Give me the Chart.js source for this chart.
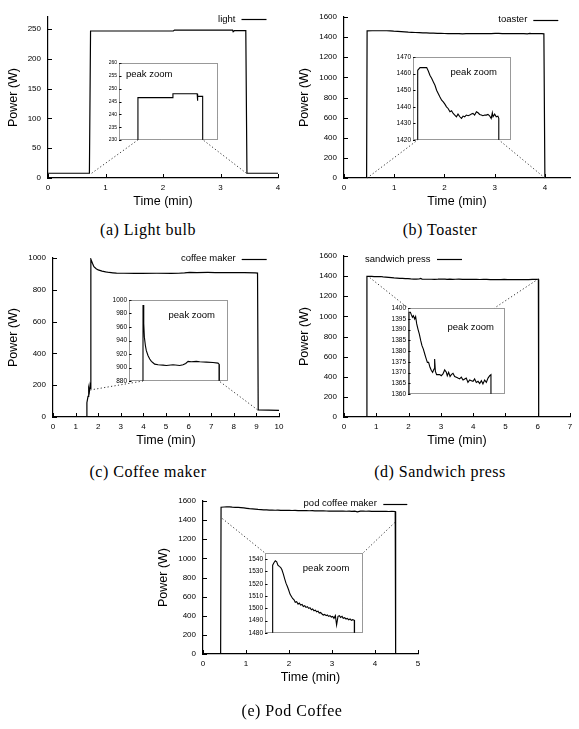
<!DOCTYPE html>
<html>
<head>
<meta charset="utf-8">
<script src="https://cdn.jsdelivr.net/npm/chart.js@4.4.1/dist/chart.umd.min.js"></script>
<style>
  body { margin: 0; background: #fff; width: 579px; height: 729px; position: relative; overflow: hidden; }
  canvas { position: absolute; }
  .cap { position: absolute; font-family: "Liberation Serif", "Times New Roman", serif; font-size: 16px;
         letter-spacing: 0.5px; color: #000; transform: translate(-50%, -50%); white-space: nowrap; }
</style>
</head>
<body>
<script>
// power traces, time in minutes, power in watts

// (a) light bulb
const lightTime  = [0, 0.72, 0.74, 2.18, 2.2, 3.21, 3.22, 3.24, 3.44, 3.46, 4];
const lightPower = [8, 8, 246.5, 246.5, 248, 248, 245.3, 247, 247, 8, 8];

// (b) toaster
const toasterTime = [0, 0.45, 0.46, 0.56, 0.85, 0.92, 0.99, 1.07, 1.14, 1.21, 1.28, 1.35, 1.42, 1.50, 1.57,
  1.64, 1.71, 1.78, 1.86, 1.93, 2.00, 2.07, 2.14, 2.21, 2.29, 2.36, 2.43, 2.50, 2.57, 2.65, 2.72, 2.79, 2.86,
  2.93, 3.01, 3.08, 3.15, 3.22, 3.29, 3.37, 3.44, 3.51, 3.58, 3.65, 3.70, 3.73, 3.80, 3.87, 3.94, 3.98, 4.00, 4.5];
const toasterPower = [0, 0, 1462, 1463.6, 1463.6, 1461.6, 1459, 1457, 1455, 1453, 1450, 1448, 1446, 1444, 1443,
  1441.6, 1440, 1439, 1437, 1437.6, 1436, 1435, 1434, 1435.6, 1434, 1433, 1434.4, 1434, 1435, 1434.6, 1435, 1435.6, 1436,
  1435, 1437, 1436.4, 1435.4, 1435, 1434.6, 1435, 1435, 1435.4, 1434.6, 1433, 1436.4, 1434, 1435.6, 1434, 1434.4, 1433, 0, 0];

// (c) coffee maker
const coffeeTime = [0, 1.48, 1.50, 1.55, 1.58, 1.61, 1.64, 1.67, 1.68, 1.75, 1.81, 1.91, 2.00, 2.17, 2.33,
  2.49, 2.65, 2.81, 3.14, 3.62, 3.94, 4.59, 5.24, 5.56, 5.82, 6.05, 6.37, 6.85, 7.18, 7.82, 8.47, 8.95, 9.05, 9.08, 10];
const coffeePower = [0, 0, 90, 130, 180, 160, 200, 175, 992.5, 965, 945, 932.5, 925, 917.5, 912.5,
  909, 907, 905, 904, 903.5, 903, 904, 903, 904, 906, 909, 908.5, 909, 908.5, 908, 907.5, 906.5, 905, 45, 42];

// (d) sandwich press
const sandwichTime = [0, 0.70, 0.71, 0.80, 0.86, 0.93, 0.99, 1.08, 1.14, 1.21, 1.29, 1.38, 1.47, 1.55, 1.64,
  1.73, 1.81, 1.90, 1.98, 2.07, 2.16, 2.24, 2.33, 2.37, 2.42, 2.50, 2.59, 2.70, 2.80, 2.91, 3.02, 3.13, 3.19,
  3.28, 3.37, 3.45, 3.56, 3.67, 3.78, 3.88, 3.99, 4.10, 4.21, 4.32, 4.42, 4.53, 4.64, 4.75, 4.86, 4.96, 5.07,
  5.18, 5.29, 5.40, 5.50, 5.61, 5.72, 5.83, 5.94, 6.02, 6.03, 7];
const sandwichPower = [0, 0, 1398.0, 1398.0, 1396.9, 1395.7, 1396.4, 1394.9, 1396.0, 1392.6, 1390.2, 1387.9, 1384.8, 1382.5, 1380.9,
  1378.6, 1376.7, 1374.7, 1374.7, 1372.4, 1370.9, 1370.1, 1371.6, 1376.3, 1370.5, 1369.0, 1369.0, 1369.0, 1368.5, 1369.3, 1371.2, 1370.1, 1368.5,
  1370.1, 1368.1, 1369.0, 1369.6, 1368.1, 1367.8, 1367.4, 1367.0, 1367.8, 1366.5, 1367.0, 1367.4, 1365.4, 1366.5, 1366.2, 1365.9, 1367.0, 1365.4,
  1365.9, 1364.9, 1366.2, 1364.7, 1366.5, 1365.4, 1367.4, 1368.5, 1369.0, 0, 0];

// (e) pod coffee maker
const podTime = [0, 0.41, 0.42, 0.49, 0.55, 0.62, 0.68, 0.75, 0.82, 0.88, 0.95, 1.02, 1.08, 1.15, 1.21, 1.28,
  1.35, 1.41, 1.48, 1.54, 1.61, 1.68, 1.74, 1.81, 1.88, 1.94, 2.01, 2.07, 2.14, 2.21, 2.27, 2.34, 2.40, 2.47,
  2.54, 2.60, 2.67, 2.73, 2.80, 2.87, 2.93, 3.00, 3.07, 3.13, 3.20, 3.26, 3.33, 3.40, 3.46, 3.53, 3.59, 3.66,
  3.73, 3.79, 3.86, 3.92, 3.99, 4.06, 4.12, 4.19, 4.26, 4.32, 4.39, 4.47, 4.48, 5];
const podPower = [0, 0, 1535.1, 1537.3, 1538.6, 1537.8, 1535.1, 1534.1, 1533.2, 1531.4, 1527.8, 1523.8, 1520.5, 1517.8, 1515.1, 1511.6,
  1509.7, 1508.1, 1507.0, 1504.9, 1505.4, 1503.5, 1504.3, 1502.7, 1503.2, 1501.6, 1502.2, 1500.8, 1501.4, 1500.0, 1500.5, 1498.9, 1499.5, 1498.1,
  1498.6, 1497.3, 1497.8, 1496.2, 1496.8, 1495.4, 1494.6, 1495.1, 1494.1, 1494.6, 1493.5, 1494.1, 1493.0, 1493.5, 1491.9, 1494.1, 1486.5, 1493.5,
  1494.1, 1492.7, 1493.5, 1491.9, 1492.4, 1491.4, 1491.9, 1490.8, 1491.4, 1490.3, 1490.8, 1490.3, 0, 0];

// tick values
const lightXTicks = [0, 1, 2, 3, 4];
const lightYTicks = [0, 50, 100, 150, 200, 250];
const lightZoomTicks = [230, 235, 240, 245, 250, 255, 260];
const toasterXTicks = [0, 1, 2, 3, 4];
const toasterYTicks = [0, 200, 400, 600, 800, 1000, 1200, 1400, 1600];
const toasterZoomTicks = [1420, 1430, 1440, 1450, 1460, 1470];
const coffeeXTicks = [0, 1, 2, 3, 4, 5, 6, 7, 8, 9, 10];
const coffeeYTicks = [0, 200, 400, 600, 800, 1000];
const coffeeZoomTicks = [880, 900, 920, 940, 960, 980, 1000];
const sandwichXTicks = [0, 1, 2, 3, 4, 5, 6, 7];
const sandwichYTicks = [0, 200, 400, 600, 800, 1000, 1200, 1400, 1600];
const sandwichZoomTicks = [1360, 1365, 1370, 1375, 1380, 1385, 1390, 1395, 1400];
const podXTicks = [0, 1, 2, 3, 4, 5];
const podYTicks = [0, 200, 400, 600, 800, 1000, 1200, 1400, 1600];
const podZoomTicks = [1480, 1490, 1500, 1510, 1520, 1530, 1540];

const FONT = '"Liberation Sans", Arial, Helvetica, sans-serif';
Chart.defaults.font.family = FONT;
Chart.defaults.color = '#000';

const toPts = (t, p) => t.map((x, i) => ({ x: x, y: p[i] }));
const useTicks = vals => s => { s.ticks = vals.map(v => ({ value: v })); };

// small gnuplot-style ticks pointing into the plot
const inTicks = {
  id: 'inTicks',
  afterDraw(chart, args, o) {
    if (!o.len) return;
    const { ctx, chartArea: a, scales } = chart;
    ctx.save();
    ctx.strokeStyle = '#000';
    ctx.lineWidth = 1;
    ctx.beginPath();
    if (o.x) scales.x.ticks.forEach(t => {
      const px = Math.round(scales.x.getPixelForValue(t.value)) + 0.5;
      ctx.moveTo(px, a.bottom); ctx.lineTo(px, a.bottom - o.len);
    });
    scales.y.ticks.forEach(t => {
      const py = Math.round(scales.y.getPixelForValue(t.value)) + 0.5;
      ctx.moveTo(a.left, py); ctx.lineTo(a.left + o.len, py);
    });
    ctx.stroke();
    ctx.restore();
  }
};

// key: label text then a short line sample
const keyPlugin = {
  id: 'key',
  afterDraw(chart, args, o) {
    if (!o.side) return;
    const { ctx, chartArea: a } = chart;
    const text = chart.data.datasets[0].label;
    ctx.save();
    ctx.font = '9.5px ' + FONT;
    ctx.fillStyle = '#000';
    ctx.textBaseline = 'middle';
    const y = a.top + o.dy;
    let x0;
    if (o.side === 'right') {
      x0 = a.right - o.dx - o.len;
      ctx.textAlign = 'right';
      ctx.fillText(text, x0 - o.gap, y);
    } else {
      ctx.textAlign = 'left';
      ctx.fillText(text, a.left + o.dx, y);
      x0 = a.left + o.dx + ctx.measureText(text).width + o.gap;
    }
    ctx.beginPath();
    ctx.moveTo(x0, Math.round(y) + 0.5);
    ctx.lineTo(x0 + o.len, Math.round(y) + 0.5);
    ctx.lineWidth = 1.2;
    ctx.strokeStyle = '#000';
    ctx.stroke();
    ctx.restore();
  }
};

// dotted box of the zoom panel and its label
const framePlugin = {
  id: 'frame',
  afterDraw(chart, args, o) {
    if (!o.side) return;
    const { ctx, chartArea: a } = chart;
    ctx.save();
    ctx.setLineDash([1, 1]);
    ctx.strokeStyle = '#333';
    ctx.lineWidth = 1;
    ctx.strokeRect(a.left + 0.5, a.top + 0.5, a.right - a.left - 1, a.bottom - a.top - 1);
    ctx.setLineDash([]);
    ctx.font = '9.5px ' + FONT;
    ctx.fillStyle = '#000';
    ctx.textBaseline = 'middle';
    ctx.textAlign = o.side;
    ctx.fillText('peak zoom', o.side === 'left' ? a.left + o.dx : a.right - o.dx, a.top + o.dy);
    ctx.restore();
  }
};

// dotted lines from the main trace to the zoom panel
const connectors = {
  id: 'connectors',
  afterDatasetsDraw(chart, args, o) {
    const inset = chart.$inset;
    if (!inset || !o.pairs) return;
    const { ctx } = chart;
    const dx = inset.$pos.left - chart.$pos.left;
    const dy = inset.$pos.top - chart.$pos.top;
    ctx.save();
    ctx.setLineDash([1.2, 2.3]);
    ctx.lineWidth = 1;
    ctx.strokeStyle = '#333';
    o.pairs.forEach(([mx, my, ix, iy]) => {
      ctx.beginPath();
      ctx.moveTo(chart.scales.x.getPixelForValue(mx), chart.scales.y.getPixelForValue(my));
      ctx.lineTo(inset.scales.x.getPixelForValue(ix) + dx, inset.scales.y.getPixelForValue(iy) + dy);
      ctx.stroke();
    });
    ctx.restore();
  }
};

function makeCanvas(rect, m) {
  const c = document.createElement('canvas');
  const left = rect[0] - m.l, top = rect[1] - m.t;
  c.width = rect[2] - rect[0] + m.l + m.r;
  c.height = rect[3] - rect[1] + m.t + m.b;
  c.style.left = left + 'px';
  c.style.top = top + 'px';
  document.body.appendChild(c);
  return { c: c, left: left, top: top };
}

function caption(text, x, y) {
  const d = document.createElement('div');
  d.className = 'cap';
  d.textContent = text;
  d.style.left = x + 'px';
  d.style.top = y + 'px';
  document.body.appendChild(d);
}

function drawPanel(p) {
  const m = { l: 47, t: 10, r: 10, b: 32 };
  const mc = makeCanvas(p.rect, m);
  const main = new Chart(mc.c, {
    type: 'line',
    data: { datasets: [{ label: p.label, data: toPts(p.time, p.power), borderColor: '#000',
      borderWidth: 1.2, pointRadius: 0, tension: 0 }] },
    options: {
      responsive: false, animation: false, events: [],
      layout: { padding: { left: 0, top: m.t, right: m.r, bottom: 0 } },
      plugins: {
        legend: { display: false }, tooltip: { enabled: false },
        key: p.key, connectors: { pairs: p.links }, inTicks: { len: 4, x: true }
      },
      scales: {
        x: {
          type: 'linear', min: 0, max: p.xMax,
          grid: { display: false, drawTicks: false },
          border: { display: true, color: '#000', width: 1.2 },
          afterBuildTicks: useTicks(p.xTicks),
          afterFit: s => { s.height = m.b; s.paddingLeft = 0; s.paddingRight = 0; },
          ticks: { padding: 5, font: { size: 8 }, maxRotation: 0, autoSkip: false, callback: v => String(v) },
          title: { display: true, text: 'Time (min)', font: { size: 12.5 }, padding: { top: 0, bottom: 0.8 } }
        },
        y: {
          type: 'linear', min: 0, max: p.yMax,
          grid: { display: false, drawTicks: false },
          border: { display: true, color: '#000', width: 1.2 },
          afterBuildTicks: useTicks(p.yTicks),
          afterFit: s => { s.width = m.l; s.paddingTop = 0; s.paddingBottom = 0; },
          ticks: { padding: 7, font: { size: 8 }, autoSkip: false, callback: v => String(v) },
          title: { display: true, text: 'Power (W)', font: { size: 12.5 }, padding: { top: p.yTitlePad, bottom: 0 } }
        }
      }
    },
    plugins: [inTicks, keyPlugin, connectors]
  });

  const z = p.zoom;
  const im = { l: z.lm, t: 4, r: 4, b: 4 };
  const ic = makeCanvas(z.rect, im);
  const inset = new Chart(ic.c, {
    type: 'line',
    data: { datasets: [{ label: p.label, data: toPts(p.time, p.power), borderColor: '#000',
      borderWidth: 1.1, pointRadius: 0, tension: 0 }] },
    options: {
      responsive: false, animation: false, events: [],
      layout: { padding: { left: 0, top: im.t, right: im.r, bottom: im.b } },
      plugins: {
        legend: { display: false }, tooltip: { enabled: false },
        frame: z.label, inTicks: { len: 2.5 }
      },
      scales: {
        x: { type: 'linear', display: false, min: z.x[0], max: z.x[1] },
        y: {
          type: 'linear', min: z.y[0], max: z.y[1],
          grid: { display: false, drawTicks: false },
          border: { display: false },
          afterBuildTicks: useTicks(z.ticks),
          afterFit: s => { s.width = im.l; s.paddingTop = 0; s.paddingBottom = 0; },
          ticks: { padding: 2, font: { size: z.font }, autoSkip: false, callback: v => String(v) }
        }
      }
    },
    plugins: [inTicks, framePlugin]
  });

  main.$pos = mc;
  inset.$pos = ic;
  main.$inset = inset;
  main.draw();
  caption(p.caption, p.capPos[0], p.capPos[1]);
}

drawPanel({
  label: 'light', time: lightTime, power: lightPower, xMax: 4, yMax: 270,
  xTicks: lightXTicks, yTicks: lightYTicks, rect: [48, 17, 278, 178], yTitlePad: 4.8,
  key: { side: 'right', dx: 11.5, dy: 2.3, len: 25, gap: 6 },
  links: [[0.76, 8, 0.735, 230], [3.45, 8, 3.46, 230]],
  zoom: { rect: [119, 63, 218, 140], lm: 15, x: [-0.05, 4.08], y: [230, 260], ticks: lightZoomTicks, font: 5,
    label: { side: 'left', dx: 7, dy: 11.5 } },
  caption: '(a) Light bulb', capPos: [148, 230]
});

drawPanel({
  label: 'toaster', time: toasterTime, power: toasterPower, xMax: 4.5, yMax: 1600,
  xTicks: toasterXTicks, yTicks: toasterYTicks, rect: [344, 17, 570, 178], yTitlePad: 0.5,
  key: { side: 'right', dx: 11.7, dy: 2.5, len: 25, gap: 6 },
  links: [[0.46, 0, 0.46, 1420], [4.0, 0, 3.99, 1420]],
  zoom: { rect: [413, 57, 511, 140], lm: 20, x: [0.256, 4.51], y: [1420, 1470], ticks: toasterZoomTicks, font: 6.5,
    label: { side: 'right', dx: 14, dy: 15 } },
  caption: '(b) Toaster', capPos: [440, 230]
});

drawPanel({
  label: 'coffee maker', time: coffeeTime, power: coffeePower, xMax: 10, yMax: 1000,
  xTicks: coffeeXTicks, yTicks: coffeeYTicks, rect: [53, 258, 279, 417], yTitlePad: 0.5,
  key: { side: 'right', dx: 12.3, dy: 0.5, len: 25, gap: 6 },
  links: [[1.65, 170, 1.68, 880], [9.05, 45, 9.05, 880]],
  zoom: { rect: [129, 300, 228, 381], lm: 20, x: [0.32, 9.92], y: [880, 1000], ticks: coffeeZoomTicks, font: 6.5,
    label: { side: 'right', dx: 13, dy: 15 } },
  caption: '(c) Coffee maker', capPos: [148, 472]
});

drawPanel({
  label: 'sandwich press', time: sandwichTime, power: sandwichPower, xMax: 7, yMax: 1600,
  xTicks: sandwichXTicks, yTicks: sandwichYTicks, rect: [344, 256, 570, 417], yTitlePad: 0.5,
  key: { side: 'left', dx: 21, dy: 3.3, len: 25, gap: 6.5 },
  links: [[0.8, 1385, 0.645, 1400], [6.02, 1372, 6.25, 1400]],
  zoom: { rect: [408, 308, 505, 394], lm: 20, x: [0.645, 6.93], y: [1360, 1400], ticks: sandwichZoomTicks, font: 6.5,
    label: { side: 'right', dx: 11, dy: 19 } },
  caption: '(d) Sandwich press', capPos: [440, 472]
});

drawPanel({
  label: 'pod coffee maker', time: podTime, power: podPower, xMax: 5, yMax: 1600,
  xTicks: podXTicks, yTicks: podYTicks, rect: [203, 501, 418, 654], yTitlePad: 0.5,
  key: { side: 'right', dx: 10.7, dy: 2.6, len: 24, gap: 6.5 },
  links: [[0.45, 1416, 0.04, 1545], [4.46, 1375, 4.90, 1545]],
  zoom: { rect: [265, 553, 363, 633], lm: 20, x: [0.04, 4.90], y: [1480, 1545], ticks: podZoomTicks, font: 6.5,
    label: { side: 'right', dx: 13.7, dy: 15.5 } },
  caption: '(e) Pod Coffee', capPos: [292, 711]
});
</script>
</body>
</html>
